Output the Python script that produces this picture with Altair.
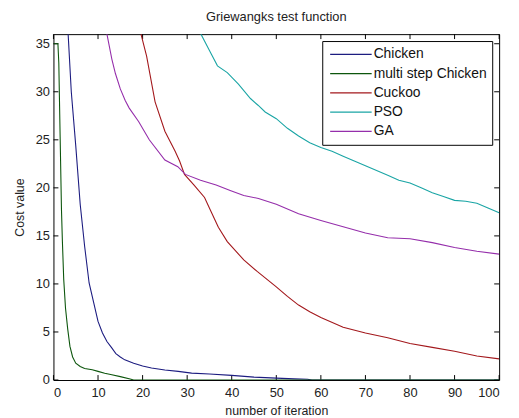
import altair as alt
import pandas as pd

# ---- data ----
series_names = ["Chicken", "\u00a0multi step Chicken", "Cuckoo", "PSO", "GA"]
series_colors = ["#1c1c80", "#0d560d", "#a3181c", "#1aa5a5", "#952eab"]

chicken_x = [3, 4, 5, 6, 7, 8, 9, 10, 11, 12, 13, 14, 15, 16, 18, 20, 22, 25, 28, 31, 35, 40, 45, 50, 54, 57, 58, 100]
chicken_y = [38.5, 30, 24.4, 18.3, 13.9, 10.1, 8.1, 6.1, 4.9, 4.0, 3.4, 2.75, 2.4, 2.1, 1.75, 1.45, 1.25, 1.05, 0.9, 0.72, 0.62, 0.48, 0.3, 0.2, 0.12, 0.08, 0.0, 0.0]

multi_x = [0, 1, 1.2, 1.5, 1.8, 2, 2.3, 2.7, 3.2, 3.7, 4.3, 5, 6, 7, 8.7, 10, 11.5, 13.1, 15, 17.2, 18, 100]
multi_y = [35, 35, 33, 25.3, 17.7, 14.5, 10.5, 7.5, 5.3, 3.5, 2.4, 1.75, 1.4, 1.2, 1.06, 0.9, 0.7, 0.55, 0.35, 0.1, 0.0, 0.0]

cuckoo_x = [19, 19.7, 20.9, 22.8, 25, 27.3, 28.3, 29.4, 31.5, 33.9, 35.3, 37, 39, 42.7, 45.7, 50, 52.5, 55, 57.5, 60, 65, 70, 75, 80, 85, 90, 95, 100]
cuckoo_y = [37.2, 35.9, 33.7, 28.95, 25.9, 23.8, 22.8, 21.4, 20.3, 19.0, 17.6, 15.9, 14.4, 12.5, 11.3, 9.7, 8.7, 7.8, 7.1, 6.5, 5.5, 4.9, 4.4, 3.8, 3.4, 3.0, 2.5, 2.2]

pso_x = [32, 33.1, 35, 36.8, 39, 41.5, 44.2, 45.9, 47.5, 50, 52.5, 55, 57.5, 60, 62.5, 65, 67.5, 70, 72.5, 75, 77.5, 80, 82.5, 85, 87.5, 90, 92.5, 95, 97.5, 100]
pso_y = [37, 36, 34.3, 32.7, 32.0, 30.8, 29.3, 28.6, 27.9, 27.2, 26.2, 25.4, 24.7, 24.2, 23.8, 23.3, 22.8, 22.3, 21.8, 21.3, 20.8, 20.5, 20.0, 19.5, 19.1, 18.7, 18.6, 18.4, 17.9, 17.4]

ga_x = [11.5, 12, 13.1, 13.9, 15, 16.1, 17, 19.1, 21.5, 25, 27.9, 29.6, 33, 36.5, 39.8, 42.7, 46, 50, 55, 60, 65, 70, 75, 80, 85, 90, 95, 100]
ga_y = [37.2, 36, 33.4, 31.9, 30.3, 29.1, 28.3, 26.9, 25.0, 22.9, 22.2, 21.4, 20.8, 20.3, 19.7, 19.2, 18.9, 18.3, 17.3, 16.6, 15.95, 15.3, 14.8, 14.7, 14.3, 13.8, 13.4, 13.1]

x_ticks = [0, 10, 20, 30, 40, 50, 60, 70, 80, 90, 100]
y_ticks = [0, 5, 10, 15, 20, 25, 30, 35]

series_data = [
    (series_names[0], chicken_x, chicken_y),
    (series_names[1], multi_x, multi_y),
    (series_names[2], cuckoo_x, cuckoo_y),
    (series_names[3], pso_x, pso_y),
    (series_names[4], ga_x, ga_y),
]
rows = []
for name, xs, ys in series_data:
    for xv, yv in zip(xs, ys):
        rows.append({"series": name, "iteration": xv, "cost": yv})
df = pd.DataFrame(rows)
xt_df = pd.DataFrame({"tick": x_ticks})
yt_df = pd.DataFrame({"tick": y_ticks})

W, H = 451, 350
TL = 5  # inward tick length (px)
FONT = "Liberation Sans"
TXT = "#222222"

xscale = alt.Scale(domain=[0, 100], nice=False)
yscale = alt.Scale(domain=[0, 36], nice=False)

lines = alt.Chart(df).mark_line(clip=True, strokeWidth=1.1).encode(
    x=alt.X("iteration:Q", scale=xscale,
            title="number of iteration",
            axis=alt.Axis(orient="bottom", values=x_ticks, ticks=False, domain=False, grid=False,
                          labelFont=FONT, labelFontSize=13, labelColor=TXT, labelPadding=7,
                          titleFont=FONT, titleFontSize=12.5, titleFontWeight="normal",
                          titleColor=TXT, titlePadding=5)),
    y=alt.Y("cost:Q", scale=yscale,
            title="Cost value",
            axis=alt.Axis(orient="left", values=y_ticks, ticks=False, domain=False, grid=False,
                          labelFont=FONT, labelFontSize=13, labelColor=TXT, labelPadding=4,
                          titleFont=FONT, titleFontSize=12.5, titleFontWeight="normal",
                          titleColor=TXT, titlePadding=9)),
    color=alt.Color("series:N",
                    scale=alt.Scale(domain=series_names, range=series_colors),
                    legend=alt.Legend(orient="none", legendX=272, legendY=7, title=None,
                                      symbolType="stroke", symbolSize=1764, symbolStrokeWidth=1.3,
                                      labelFont=FONT, labelFontSize=14, labelColor="#111111",
                                      strokeColor="black", fillColor="white", padding=5,
                                      clipHeight=17, rowPadding=2.5, labelOffset=1,
                                      symbolOffset=2, cornerRadius=0)),
)

# inward tick marks on all four edges, placed through the shared scales
xt_bottom = alt.Chart(xt_df).mark_rule(color="black", strokeWidth=1).encode(
    x=alt.X("tick:Q", scale=xscale, axis=None), y=alt.value(H - TL), y2=alt.value(H))
xt_top = alt.Chart(xt_df).mark_rule(color="black", strokeWidth=1).encode(
    x=alt.X("tick:Q", scale=xscale, axis=None), y=alt.value(0), y2=alt.value(TL))
yt_left = alt.Chart(yt_df).mark_rule(color="black", strokeWidth=1).encode(
    y=alt.Y("tick:Q", scale=yscale, axis=None), x=alt.value(0), x2=alt.value(TL))
yt_right = alt.Chart(yt_df).mark_rule(color="black", strokeWidth=1).encode(
    y=alt.Y("tick:Q", scale=yscale, axis=None), x=alt.value(W - TL), x2=alt.value(W))

chart = alt.layer(xt_bottom, xt_top, yt_left, yt_right, lines).resolve_axis(
    x="independent", y="independent"
).properties(
    width=W, height=H,
    title=alt.TitleParams("Griewangks test function", font=FONT, fontSize=13,
                          fontWeight="normal", color=TXT, anchor="middle", offset=10),
    autosize=alt.AutoSizeParams(type="none"),
    padding={"left": 46, "top": 24, "right": 12, "bottom": 36},
    background="white",
).configure_view(stroke="black", strokeWidth=1)

chart.save("out.html", embed_options={"renderer": "svg", "actions": False})
